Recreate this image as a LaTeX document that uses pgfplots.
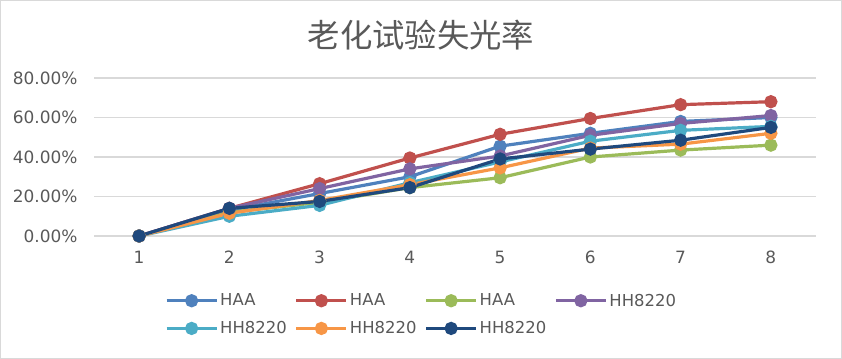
\documentclass[border=0pt]{standalone}
\usepackage{pgfplots}
\pgfplotsset{compat=1.18}
\usepackage{pgfplotstable}
\usepackage{fontspec}
\setmainfont{DejaVu Sans}
\newfontfamily\cjk{Noto Sans CJK SC}
\definecolor{txt}{HTML}{595959}
\definecolor{gridc}{HTML}{D9D9D9}
\definecolor{cA}{HTML}{4F81BD}
\definecolor{cB}{HTML}{C0504D}
\definecolor{cC}{HTML}{9BBB59}
\definecolor{cD}{HTML}{8064A2}
\definecolor{cE}{HTML}{4BACC6}
\definecolor{cF}{HTML}{F79646}
\definecolor{cG}{HTML}{1F497D}
\pgfplotstableread{
x  a     b     c     d     e     f     g
1  0     0     0     0     0     0     0
2  13    14    12    14    10    11.5  14
3  21.5  26.5  17    24    15.5  18    17.5
4  30    39.5  24.5  34    27    26    24.5
5  45.5  51.5  29.5  40.5  37.5  34.5  39
6  52    59.5  40    51    48    44.5  44
7  58    66.5  43.5  57    53.5  46.5  48.5
8  60    68    46    61    55.5  52    55
}\data
\begin{document}
\begin{tikzpicture}
\path[use as bounding box] (0bp,0bp) rectangle (842bp,359bp);
\draw[gridc,line width=1bp] (0.5bp,0.5bp) rectangle (841.5bp,358.5bp);
\node[text=txt,font=\cjk\fontsize{32.5}{35}\selectfont] at (421bp,324bp) {老化试验失光率};
\begin{axis}[
  at={(94bp,123bp)}, anchor=south west,
  scale only axis, width=722bp, height=158bp,
  xmin=0.5, xmax=8.5, ymin=0, ymax=80,
  xtick={1,...,8}, ytick={0,20,...,80},
  xmajorgrids=false, ymajorgrids=true,
  major y grid style={draw=gridc,line width=1.2bp},
  axis line style={draw=none},
  xmajorticks=false, ymajorticks=false,
  every axis plot/.append style={line width=3.2bp, mark=*, mark size=5bp},
  legend columns=4,
  legend style={draw=none, fill=none, at={(0.094,-0.34)}, anchor=north west,
    font=\fontsize{16.5}{18}\selectfont, text=txt,
    /tikz/every even column/.append style={column sep=6bp},
    row sep=10bp},
  legend cell align=left,
  legend image code/.code={\draw[mark repeat=2,mark phase=2,line width=3.2bp] plot coordinates {(0bp,0bp)(25bp,0bp)(50bp,0bp)};},
  clip=false,
]
\addplot[cA] table[x=x,y=a] {\data};
\addplot[cB] table[x=x,y=b] {\data};
\addplot[cC] table[x=x,y=c] {\data};
\addplot[cD] table[x=x,y=d] {\data};
\addplot[cE] table[x=x,y=e] {\data};
\addplot[cF] table[x=x,y=f] {\data};
\addplot[cG] table[x=x,y=g] {\data};
\legend{HAA,HAA,HAA,HH8220,HH8220,HH8220,HH8220}
\pgfplotsinvokeforeach{1,...,8}{
  \node[text=txt,font=\fontsize{17}{18}\selectfont,anchor=center] at ([yshift=-21bp]axis cs:#1,0) {#1};
}
\node[text=txt,font=\fontsize{17}{18}\selectfont,anchor=east] at ([xshift=-13bp]axis cs:0.5,0) {0.00\%};
\node[text=txt,font=\fontsize{17}{18}\selectfont,anchor=east] at ([xshift=-13bp]axis cs:0.5,20) {20.00\%};
\node[text=txt,font=\fontsize{17}{18}\selectfont,anchor=east] at ([xshift=-13bp]axis cs:0.5,40) {40.00\%};
\node[text=txt,font=\fontsize{17}{18}\selectfont,anchor=east] at ([xshift=-13bp]axis cs:0.5,60) {60.00\%};
\node[text=txt,font=\fontsize{17}{18}\selectfont,anchor=east] at ([xshift=-13bp]axis cs:0.5,80) {80.00\%};
\end{axis}
\end{tikzpicture}
\end{document}
